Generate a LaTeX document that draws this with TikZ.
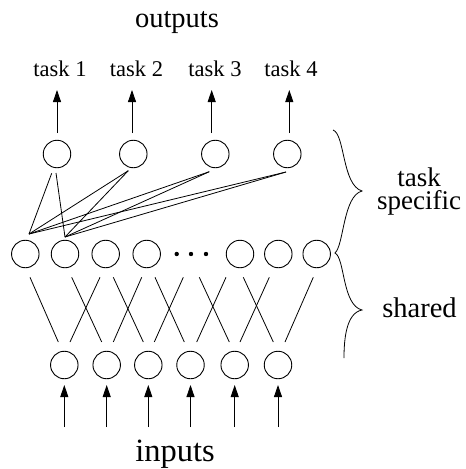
\documentclass[tikz,border=0pt]{standalone}
\usepackage{fontspec}
\setmainfont{Liberation Serif}
\usetikzlibrary{calc,arrows.meta}
\begin{document}
\begin{tikzpicture}[x=1pt,y=-1pt,
  unit/.style={circle,draw,line width=0.9pt,minimum size=27.5pt,inner sep=0pt},
  wire/.style={line width=0.8pt},
  feed/.style={line width=0.8pt,-{Triangle[length=12pt,width=8pt]}},
  lbl/.style={anchor=base,inner sep=0pt}]
\useasboundingbox (0,0) rectangle (466,469);

% task-specific output units
\node[unit] (t1) at (57,154) {};
\node[unit] (t2) at (133.3,154) {};
\node[unit] (t3) at (215.3,154) {};
\node[unit] (t4) at (287.3,154) {};

% shared hidden layer (with the ellipsis)
\foreach \n/\x in {m1/25.3,m2/65,m3/105.7,m4/146.7,m5/240,m6/278.3,m7/316.7}
  \node[unit] (\n) at (\x,254) {};
\coordinate (md) at (191,254);
\foreach \dx in {-14.3,0,15} \fill ($(md)+(\dx,0)$) circle (2.2);

% input units
\foreach \n/\x in {b1/64.3,b2/106.7,b3/148.3,b4/190.5,b5/234.7,b6/278}
  \node[unit] (\n) at (\x,365) {};

% labels
\node[lbl,font=\fontsize{28.5}{30}\selectfont] (outlbl) at (177,27) {outputs};
\foreach \i/\x in {1/60,2/136.5,3/215,4/291}
  \node[lbl,font=\fontsize{22.5}{24}\selectfont] (l\i) at (\x,76.5) {task \i};
\node[lbl,font=\fontsize{32.5}{35}\selectfont] (inlbl) at (175,461.5) {inputs};
\node[inner sep=0pt,align=center,font=\fontsize{27}{23}\selectfont] (tsk)
  at (419,192) {task\\specific};
\node[lbl,font=\fontsize{28.5}{30}\selectfont] (shr) at (419.5,317) {shared};

% output arrows
\foreach \i/\dx in {1/0,2/-1.3,3/-3.6,4/2}
  \draw[feed] ($(t\i)+(\dx,-21)$) -- ($(t\i)+(\dx,-64)$);

% input arrows
\foreach \i in {1,...,6}
  \draw[feed] ($(b\i)+(0,62)$) -- ($(b\i)+(0,20)$);

% task units fan in from the first two hidden units
\coordinate (p1) at ($(m1)+(3.7,-20)$);
\coordinate (p2) at ($(m2)+(0,-17)$);
\draw[wire] ($(t1)+(-5.3,19.3)$) -- (p1);
\draw[wire] ($(t1)+(-1,19)$) -- (p2);
\foreach \i/\dx/\dy in {2/-5/16.7,3/-6/17.7,4/-1.3/18}{
  \draw[wire] ($(t\i)+(\dx,\dy)$) -- (p1);
  \draw[wire] ($(t\i)+(\dx,\dy)$) -- (p2);
}

% shared connections between input and hidden layer
\foreach \u/\du/\v/\dv in {m1/4.7/b1/-6, m2/6.7/b2/-5, m3/-5.7/b1/5.7,
    m3/7.6/b3/-5, m4/-5/b2/6.6, m4/8.3/b4/-6.2, md/-7.7/b3/6,
    md/8.3/b5/-5.4, m5/-14/b4/6.2, m5/3.3/b6/-4.7, m6/-9/b5/5.3,
    m7/-3.4/b6/7}
  \draw[wire] ($(\u)+(\du,23.3)$) -- ($(\v)+(\dv,-23)$);

% braces
\draw[wire] (333,130) .. controls (345,134) and (342,185) .. (362,191)
  .. controls (343,196) and (344,245) .. (335,253)
  .. controls (345,258) and (342,305) .. (362,310)
  .. controls (346,313) and (344,340) .. (344,358);
\end{tikzpicture}
\end{document}
